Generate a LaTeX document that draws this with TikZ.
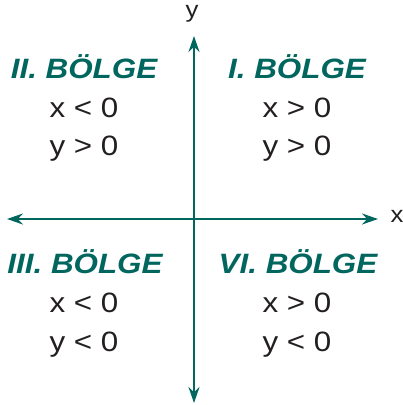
\documentclass[tikz,border=0pt]{standalone}
\usepackage{fontspec}
\setmainfont{Liberation Sans}[FakeStretch=1.12]
\usepackage{tikz}
\usetikzlibrary{arrows.meta, positioning}

\definecolor{axisteal}{RGB}{0,102,94}
\definecolor{textgray}{RGB}{35,31,32}

\begin{document}
\begin{tikzpicture}[
    x=1pt, y=-1pt,
    axis/.style={{Stealth[length=16pt, width=11pt]}-{Stealth[length=16pt, width=11pt]}, line width=2.3pt, draw=axisteal},
    head/.style={anchor=base, inner sep=0pt, text=axisteal, font=\fontsize{28}{30}\selectfont\bfseries\itshape},
    cond/.style={anchor=base, inner sep=0pt, text=textgray, font=\fontsize{28}{30}\selectfont},
    lbl/.style={inner sep=0pt, text=textgray, font=\fontsize{23}{25}\selectfont}
  ]
    \useasboundingbox (0,0) rectangle (403,405);

    % axes
    \coordinate (xl) at (7,219);
    \coordinate (xr) at (378,219);
    \coordinate (yt) at (194,36);
    \coordinate (yb) at (194,403);
    \draw[axis] (xl) -- (xr);
    \draw[axis] (yb) -- (yt);
    \node[lbl] (ylbl) at (192,14) {y};
    \node[lbl] (xlbl) at (397,216) {x};

    % quadrants
    \node[head] (q2) at (84,78) {II. BÖLGE};
    \node[cond] (q2x) at (84,117) {x < 0};
    \node[cond] (q2y) at (84,155) {y > 0};

    \node[head] (q1) at (297,78) {I. BÖLGE};
    \node[cond] (q1x) at (297,117) {x > 0};
    \node[cond] (q1y) at (297,155) {y > 0};

    \node[head] (q3) at (85,273) {III. BÖLGE};
    \node[cond] (q3x) at (84,312) {x < 0};
    \node[cond] (q3y) at (84,351) {y < 0};

    \node[head] (q4) at (298,273) {VI. BÖLGE};
    \node[cond] (q4x) at (297,312) {x > 0};
    \node[cond] (q4y) at (297,351) {y < 0};
  \end{tikzpicture}
\end{document}
